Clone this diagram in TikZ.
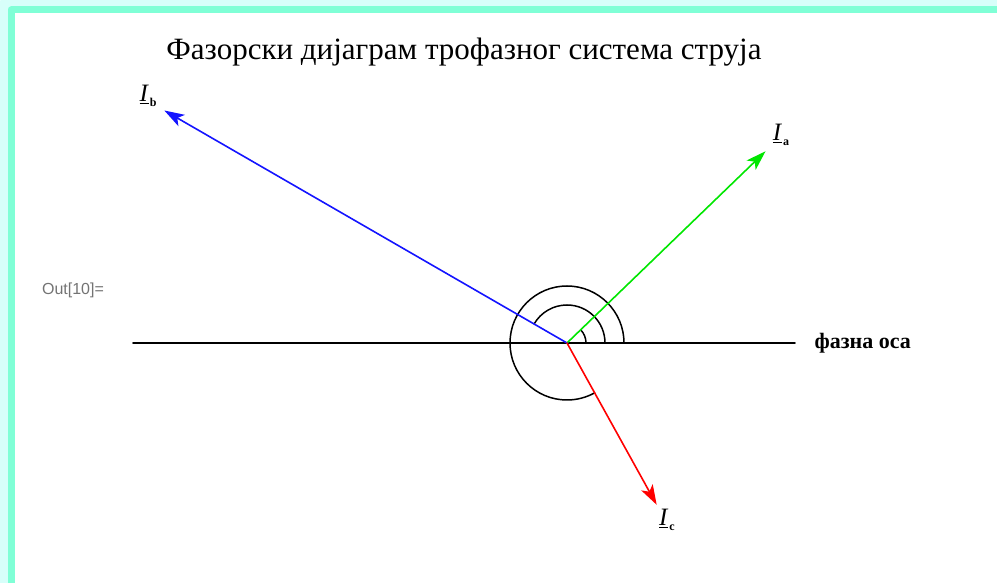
\documentclass[tikz,border=0pt]{standalone}
\usepackage{fontspec}
\setmainfont{Liberation Serif}
\newfontfamily\outfont{Liberation Sans}
\usetikzlibrary{calc,arrows.meta,positioning}

\definecolor{frame}{RGB}{128,255,214}
\definecolor{glow}{RGB}{215,255,250}
\definecolor{phA}{RGB}{0,230,0}
\definecolor{phB}{RGB}{20,20,255}
\definecolor{phC}{RGB}{255,0,0}

\tikzset{
  phasor/.style={line width=1.6pt, -{Stealth[length=20pt, width=13pt, inset=5pt]}},
  phlabel/.style={inner sep=1pt, font=\fontsize{25}{27}\selectfont},
  anglearc/.style={line width=1.5pt}
}
\newcommand{\phasorname}[1]{\underline{\textit{I}}\kern1pt{\fontsize{12}{13}\selectfont\bfseries\raisebox{-5pt}{#1}}}

\begin{document}
\begin{tikzpicture}[x=1pt, y=1pt, >=stealth, line join=round, line cap=round]
    \useasboundingbox (0,0) rectangle (997,583);
    % frame
    \begin{scope}
      \clip (0,0) rectangle (997,583);
      \draw[glow, line width=11pt] (5,-20) -- (5,579) -- (1020,579);
      \draw[frame, line width=7pt] (11,-20) -- (11,573) -- (1020,573);
    \end{scope}
    \node[font=\fontsize{31}{33}\selectfont] (title) at (464,531) {Фазорски дијаграм трофазног система струја};
    \node[font=\outfont\fontsize{16}{18}\selectfont, text=black!55] (out) at (73,293) {Out[10]=};
    % phase axis
    \coordinate (O) at (567,240);
    \coordinate (axL) at (133,240);
    \coordinate (axR) at (795,240);
    \draw[line width=1.6pt] (axL) -- (axR);
    \node[font=\fontsize{22}{24}\selectfont\bfseries, right=16pt of axR] (axis) {фазна оса};
    % angles
    \draw[anglearc] ($(O)+(19,0)$) arc[start angle=0, end angle=44, radius=19];
    \draw[anglearc] ($(O)+(38,0)$) arc[start angle=0, end angle=150, radius=38];
    \draw[anglearc] ($(O)+(57,0)$) arc[start angle=0, end angle=299, radius=57];
    % phasors
    \coordinate (Ia) at ($(O)+(44:276)$);
    \coordinate (Ib) at ($(O)+(150:465)$);
    \coordinate (Ic) at ($(O)+(-61:185)$);
    \draw[phasor, phA] (O) -- (Ia);
    \draw[phasor, phB] (O) -- (Ib);
    \draw[phasor, phC] (O) -- (Ic);
    \node[phlabel] (la) at (781,448) {\phasorname{a}};
    \node[phlabel] (lb) at (148,487) {\phasorname{b}};
    \node[phlabel] (lc) at (667,63) {\phasorname{c}};
  \end{tikzpicture}
\end{document}
